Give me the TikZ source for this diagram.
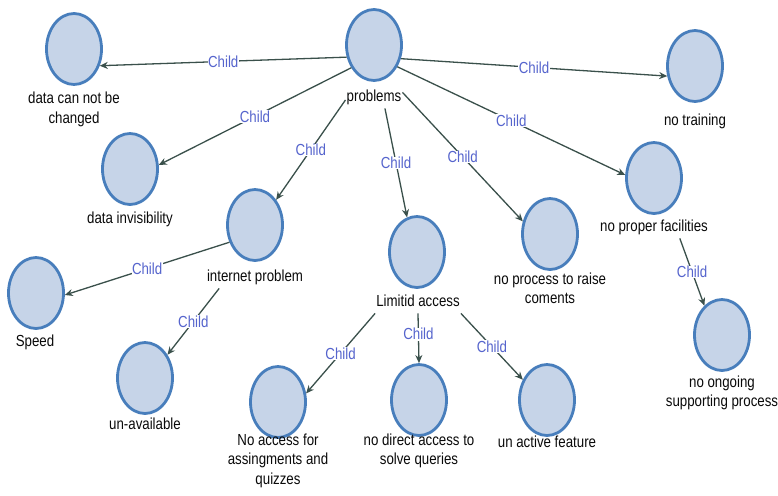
\documentclass[tikz,border=0pt]{standalone}
\usepackage{fontspec}
\setmainfont[FakeStretch=0.83]{Liberation Sans}
\usetikzlibrary{arrows.meta,shapes.geometric}
\definecolor{nodefill}{RGB}{198,212,232}
\definecolor{nodeborder}{RGB}{72,126,188}
\definecolor{edgecol}{RGB}{58,80,75}
\definecolor{childcol}{RGB}{85,100,205}
\definecolor{textcol}{RGB}{10,10,10}
\tikzset{
  bubble/.style={ellipse, draw=nodeborder, fill=nodefill, line width=2.8pt,
    minimum width=55pt, minimum height=71pt, inner sep=0pt},
  caption/.style={anchor=north, align=center, inner sep=1pt,
    font=\fontsize{16}{19.5}\selectfont, text=textcol, execute at begin node=\strut},
  link/.style={draw=edgecol, line width=1.3pt, -{Stealth[length=8pt,width=7pt]}},
  childlbl/.style={fill=white, inner sep=0.5pt, text=childcol,
    font=\fontsize{16}{19.5}\selectfont},
}
\begin{document}
\begin{tikzpicture}[x=1pt,y=-1pt]
\fill[white] (0,0) rectangle (778,495);
\useasboundingbox (0,0) rectangle (778,495);
% circles
\node[bubble] (P)  at (374,45)  {};
\node[bubble] (A)  at (74,49)   {};
\node[bubble] (NT) at (695,66)  {};
\node[bubble] (B)  at (130,169) {};
\node[bubble] (IP) at (255,225) {};
\node[bubble] (LA) at (417,252) {};
\node[bubble] (NP) at (550,234) {};
\node[bubble] (NF) at (654,178) {};
\node[bubble] (S)  at (36,293)  {};
\node[bubble] (UA) at (145,378) {};
\node[bubble] (NO) at (722,335) {};
\node[bubble] (NA) at (278,402) {};
\node[bubble] (ND) at (419,400) {};
\node[bubble] (UF) at (547,400) {};
% captions
\node[caption] (lP)  at (374,86.5)  {problems};
\node[caption] (lA)  at (74,91)     {data can not be\\changed};
\node[caption] (lNT) at (695,110.5) {no training};
\node[caption] (lB)  at (130,208.5) {data invisibility};
\node[caption] (lIP) at (255,266.5) {internet problem};
\node[caption] (lLA) at (418,291.5) {Limitid access};
\node[caption] (lNP) at (550,271.5) {no process to raise\\coments};
\node[caption] (lNF) at (654,216.5) {no proper facilities};
\node[caption] (lS)  at (35,331.5)  {Speed};
\node[caption] (lUA) at (145,414.5) {un-available};
\node[caption] (lNO) at (722,374.5) {no ongoing\\supporting process};
\node[caption] (lNA) at (278,432.5) {No access for\\assingments and\\quizzes};
\node[caption] (lND) at (419,432.5) {no direct access to\\solve queries};
\node[caption] (lUF) at (547,432.5) {un active feature};
% connectors
\draw[link] (P.204) -- node[childlbl]{Child} (A.327);
\draw[link] (P.225) -- node[childlbl]{Child} (B.8);
\draw[link] (lP.185) -- node[childlbl]{Child} (IP.50);
\draw[link] (lP.-45) -- node[childlbl]{Child} (LA.106);
\draw[link] (lP.10) -- node[childlbl]{Child} (NP.155);
\draw[link] (P.317) -- node[childlbl]{Child} (NF.174);
\draw[link] (P.333) -- node[childlbl]{Child} (NT.200);
\draw[link] (IP.214) -- node[childlbl]{Child} (S.356);
\draw[link] (lIP.197) -- node[childlbl]{Child} (UA.46);
\draw[link] (lLA.south west) -- node[childlbl]{Child} (NA.17);
\draw[link] (lLA.south) -- node[childlbl,pos=0.42]{Child} (ND.north);
\draw[link] (lLA.south east) -- node[childlbl]{Child} (UF.140);
\draw[link] (lNF.-23) -- node[childlbl]{Child} (NO.121);
\end{tikzpicture}
\end{document}
